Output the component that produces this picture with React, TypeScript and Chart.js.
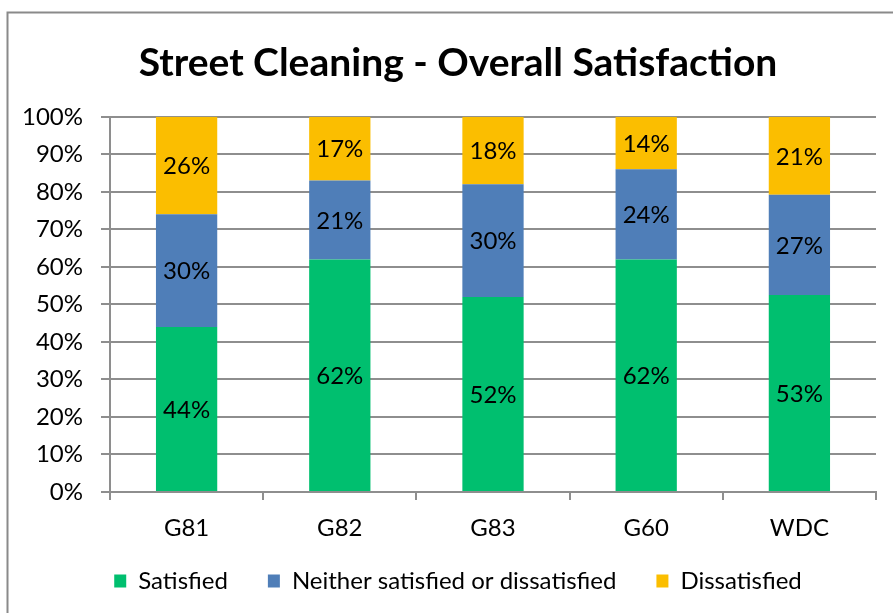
import React, { useEffect, useRef } from "react";
import { Chart, registerables } from "chart.js";

Chart.register(...registerables);

const categories = ["G81", "G82", "G83", "G60", "WDC"];
const satisfied = [44, 62, 52, 62, 53];
const neither = [30, 21, 30, 24, 27];
const dissatisfied = [26, 17, 18, 14, 21];
const yTickLabels = ["0%", "10%", "20%", "30%", "40%", "50%", "60%", "70%", "80%", "90%", "100%"];

const seriesNames = ["Satisfied", "Neither satisfied or dissatisfied", "Dissatisfied"];
const seriesColors = ["#00BF6F", "#4F7EB8", "#FBBE00"];
const FONT = "Lato, 'Open Sans', sans-serif";
const GRID = "#8E8E8E";

const raw = [satisfied, neither, dissatisfied];
const totals = categories.map((_, i) => raw.reduce((s, arr) => s + arr[i], 0));
const normalized = raw.map((arr) => arr.map((v, i) => (v / totals[i]) * 100));

const framePlugin = {
  id: "frame",
  beforeDraw(chart: any) {
    const ctx = chart.ctx;
    ctx.save();
    ctx.fillStyle = "#ffffff";
    ctx.fillRect(0, 0, chart.width, chart.height);
    ctx.strokeStyle = "#8A8A8A";
    ctx.lineWidth = 2;
    ctx.beginPath();
    ctx.moveTo(7.5, chart.height);
    ctx.lineTo(7.5, 12.5);
    ctx.lineTo(chart.width, 12.5);
    ctx.stroke();
    ctx.restore();
  },
};

const labelPlugin = {
  id: "segLabels",
  afterDatasetsDraw(chart: any) {
    const ctx = chart.ctx;
    ctx.save();
    ctx.font = `24px ${FONT}`;
    ctx.fillStyle = "#000";
    ctx.textAlign = "center";
    ctx.textBaseline = "middle";
    chart.data.datasets.forEach((ds: any, di: number) => {
      const meta = chart.getDatasetMeta(di);
      meta.data.forEach((bar: any, i: number) => {
        const y = (bar.y + bar.base) / 2;
        ctx.fillText(raw[di][i] + "%", bar.x, y + 1);
      });
    });
    ctx.restore();
  },
};

export default function App() {
  const ref = useRef<HTMLCanvasElement | null>(null);
  useEffect(() => {
    if (!ref.current) return;
    const chart = new Chart(ref.current, {
      type: "bar",
      data: {
        labels: categories,
        datasets: normalized.map((vals, k) => ({
          label: seriesNames[k],
          data: vals,
          backgroundColor: seriesColors[k],
          borderWidth: 0,
          categoryPercentage: 1,
          barPercentage: 0.4,
        })),
      },
      options: {
        animation: false,
        responsive: false,
        events: [],
        layout: { padding: { left: 40, right: 17, top: 0, bottom: 10 } },
        scales: {
          x: {
            stacked: true,
            offset: true,
            afterFit(scale: any) {
              scale.height = 37;
              scale._computeLabelArea = () => undefined;
            },
            grid: {
              offset: true,
              drawOnChartArea: false,
              drawTicks: true,
              tickLength: 8,
              color: GRID,
              lineWidth: 2,
            },
            border: { color: GRID, width: 2 },
            ticks: { color: "#000", font: { family: FONT, size: 24 }, padding: 14 },
          },
          y: {
            stacked: true,
            min: 0,
            max: 100,
            afterFit(scale: any) {
              scale.width = 70;
              scale._computeLabelArea = () => undefined;
            },
            grid: { color: GRID, lineWidth: 2, tickLength: 9 },
            border: { color: GRID, width: 2 },
            ticks: {
              stepSize: 10,
              color: "#000",
              padding: 18,
              font: { family: FONT, size: 24 },
              callback: (v: any) => yTickLabels[Math.round(Number(v) / 10)],
            },
          },
        },
        plugins: {
          title: {
            display: true,
            text: "Street Cleaning - Overall Satisfaction",
            color: "#000",
            font: { family: FONT, size: 39, weight: "bold" },
            padding: { top: 40, bottom: 30 },
          },
          legend: {
            position: "bottom",
            labels: {
              color: "#000",
              font: { family: FONT, size: 24 },
              boxWidth: 12,
              boxHeight: 13,
              padding: 40,
            },
          },
          tooltip: { enabled: false },
        },
      },
      plugins: [framePlugin, labelPlugin],
    });
    return () => chart.destroy();
  }, []);
  return (
    <div style={{ position: "absolute", left: 0, top: 0, width: 893, height: 613, background: "#fff" }}>
      <canvas ref={ref} width={893} height={613} style={{ display: "block" }} />
    </div>
  );
}
